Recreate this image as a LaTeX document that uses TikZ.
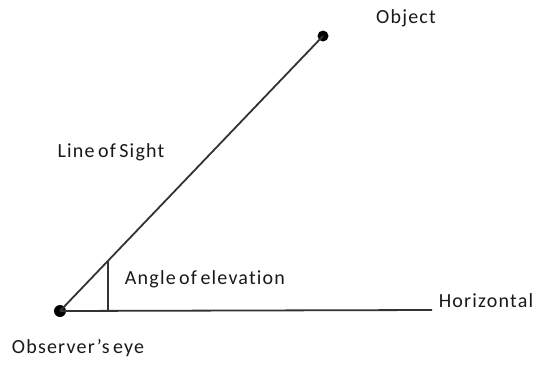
\documentclass[tikz,border=0pt]{standalone}
\usepackage{fontspec}
\setmainfont{Carlito}[LetterSpace=6,WordSpace=0.6,Ligatures=NoCommon]
\usetikzlibrary{calc}
\begin{document}
\begin{tikzpicture}[x=1pt,y=-1pt,
  lbl/.style={font=\fontsize{20}{22}\selectfont, text=black!90, inner sep=0pt, anchor=base},
  ln/.style={draw=black!80, line width=1.8pt},
  dot/.style={circle, fill=black, inner sep=0pt, minimum size=#1}]
\useasboundingbox (0,0) rectangle (539,365);
\node[dot=12pt] (eye) at (60,311) {};
\node[dot=11pt] (obj) at (323,36) {};
\coordinate (hend) at (432,310);
\draw[ln] (eye.center) -- (hend);
\draw[ln] (eye.center) -- (obj.center);
\coordinate (m2) at ($(eye.center)!0.183!(obj.center)$);
\draw[ln, line width=1.5pt] (m2) -- (m2 |- eye.center);
\node[lbl] (tobj) at (406,23) {Object};
\node[lbl] (tlos) at (111,157) {Line of Sight};
\node[lbl] (tang) at (205,284) {Angle of elevation};
\node[lbl] (thor) at (486,307) {Horizontal};
\node[lbl] (teye) at (78,353) {Observer’s eye};
\end{tikzpicture}
\end{document}
